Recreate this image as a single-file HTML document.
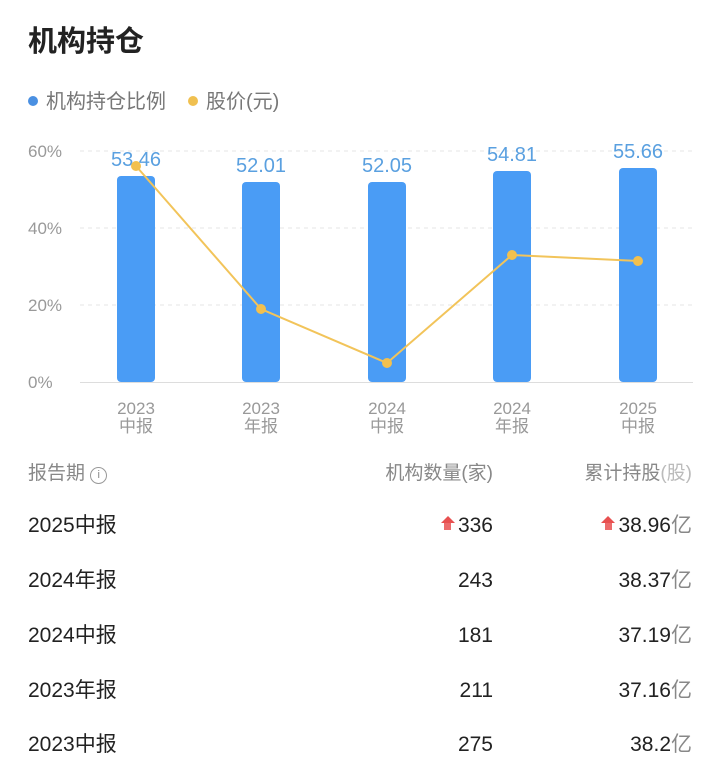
<!DOCTYPE html>
<html><head><meta charset="utf-8"><style>
body{margin:0;width:720px;height:784px;background:#fff;font-family:"Liberation Sans","Noto Sans CJK SC",sans-serif;position:relative;overflow:hidden}
.a{position:absolute;white-space:nowrap}
.row{position:absolute;left:28px;right:28px;font-size:21px;color:#222;height:30px;line-height:30px}
.row .c2{position:absolute;right:199px}
.row .c3{position:absolute;right:0}
.up{display:inline-block;width:0;height:0;border-left:7px solid transparent;border-right:7px solid transparent;border-bottom:7px solid #e85050;position:relative;top:-9px;margin-right:3px}
.up:after{content:"";position:absolute;left:-3.5px;top:7px;width:7px;height:7px;background:#ec6b6b}
</style></head><body>
<div class="a" style="left:28px;top:18px;font-size:29px;font-weight:bold;color:#222">机构持仓</div>
<div class="a" style="left:28px;top:85px;font-size:20px;color:#777"><span style="display:inline-block;width:10px;height:10px;border-radius:50%;background:#4a90e2;margin-right:8px;vertical-align:2px"></span>机构持仓比例<span style="display:inline-block;width:10px;height:10px;border-radius:50%;background:#f0c050;margin:0 8px 0 22px;vertical-align:2px"></span>股价(元)</div>
<svg class="a" style="left:0;top:130px" width="720" height="310" viewBox="0 130 720 310">
<g stroke="#e6e6e6" stroke-dasharray="4,4" stroke-width="1">
<line x1="80" y1="151" x2="693" y2="151"/><line x1="80" y1="228" x2="693" y2="228"/><line x1="80" y1="305" x2="693" y2="305"/></g>
<line x1="80" y1="382.5" x2="693" y2="382.5" stroke="#ddd"/>
<g font-size="17" fill="#999" font-family="Liberation Sans"><text x="28" y="157">60%</text><text x="28" y="234">40%</text><text x="28" y="311">20%</text><text x="28" y="388">0%</text></g>
<g fill="#4a9cf5">
<rect x="117" y="176" width="38" height="206" rx="4"/><rect x="242" y="182" width="38" height="200" rx="4"/><rect x="368" y="182" width="38" height="200" rx="4"/><rect x="493" y="171" width="38" height="211" rx="4"/><rect x="619" y="168" width="38" height="214" rx="4"/></g>
<g font-size="20" fill="#5aa0e0" text-anchor="middle" font-family="Liberation Sans"><text x="136" y="166">53.46</text><text x="261" y="172">52.01</text><text x="387" y="172">52.05</text><text x="512" y="161">54.81</text><text x="638" y="158">55.66</text></g>
<polyline points="136,166 261,309 387,363 512,255 638,261" fill="none" stroke="#f2c45a" stroke-width="2"/>
<g fill="#f2c04e"><circle cx="136" cy="166" r="5"/><circle cx="261" cy="309" r="5"/><circle cx="387" cy="363" r="5"/><circle cx="512" cy="255" r="5"/><circle cx="638" cy="261" r="5"/></g>
<g font-size="17" fill="#999" text-anchor="middle" font-family="Liberation Sans,Noto Sans CJK SC"><text x="136" y="414">2023</text><text x="136" y="432">中报</text><text x="261" y="414">2023</text><text x="261" y="432">年报</text><text x="387" y="414">2024</text><text x="387" y="432">中报</text><text x="512" y="414">2024</text><text x="512" y="432">年报</text><text x="638" y="414">2025</text><text x="638" y="432">中报</text></g>
</svg>
<div class="row" style="top:459px;font-size:19px;color:#888">报告期 <span style="display:inline-block;width:15px;height:15px;border:1.5px solid #999;border-radius:50%;font-size:11px;line-height:15px;text-align:center;vertical-align:1px">i</span><span class="c2">机构数量(家)</span><span class="c3">累计持股<span style="color:#bbb">(股)</span></span></div>
<div class="row" style="top:511px">2025中报<span class="c2"><i class="up"></i>336</span><span class="c3"><i class="up"></i>38.96<span style="color:#888">亿</span></span></div>
<div class="row" style="top:566px">2024年报<span class="c2">243</span><span class="c3">38.37<span style="color:#888">亿</span></span></div>
<div class="row" style="top:621px">2024中报<span class="c2">181</span><span class="c3">37.19<span style="color:#888">亿</span></span></div>
<div class="row" style="top:676px">2023年报<span class="c2">211</span><span class="c3">37.16<span style="color:#888">亿</span></span></div>
<div class="row" style="top:730px">2023中报<span class="c2">275</span><span class="c3">38.2<span style="color:#888">亿</span></span></div>
</body></html>
